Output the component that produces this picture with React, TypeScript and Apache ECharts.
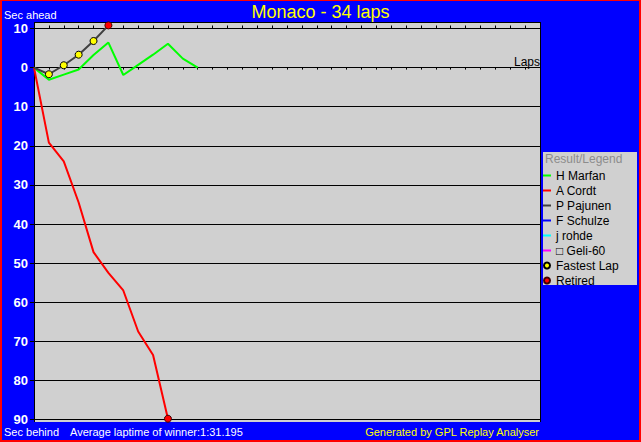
import React, { useEffect, useRef } from "react";
import * as echarts from "echarts";

// Laps 0..n, seconds behind (positive) / ahead (negative) relative to winner average
const marfan = [0, 3.1, 1.8, 0.5, -3.2, -6.4, 1.9, -0.7, -3.3, -6.1, -2.3, 0];
const cordt = [0, 19.2, 24, 34.5, 47.2, 52.5, 57, 67.5, 73.5, 89.8];
const pajunen = [0, 1.7, -0.6, -3.3, -6.8, -10.8];
const fastestLapLaps = [1, 2, 3, 4]; // laps of P Pajunen marked as fastest
const retiredLaps = { pajunen: 5, cordt: 9 };
const yTicks = [-10, 0, 10, 20, 30, 40, 50, 60, 70, 80, 90];
const totalLaps = 34;

const FONT = "'Liberation Sans', Arial, sans-serif";
const PLOT_GRAY = "#d0d0d0";

const toPairs = (arr: number[]) => arr.map((v, i) => [i, v]);

export default function App() {
  const ref = useRef<HTMLDivElement>(null);

  useEffect(() => {
    document.body.style.margin = "0";
    if (!ref.current) return;
    const chart = echarts.init(ref.current, undefined, { renderer: "svg" });

    const fastest = fastestLapLaps.map((l) => [l, pajunen[l]]);
    const retired = [
      [retiredLaps.pajunen, pajunen[retiredLaps.pajunen]],
      [retiredLaps.cordt, cordt[retiredLaps.cordt]],
    ];
    const lineIcon = "path://M0,0h8v2h-8z";

    const lineSeries = (name: string, color: string, data: number[][]) => ({
      name,
      type: "line",
      data,
      symbol: "none",
      color,
      clip: false,
      lineStyle: { color, width: 2 },
      xAxisIndex: 0,
      yAxisIndex: 0,
      z: 3,
    });

    chart.setOption({
      animation: false,
      backgroundColor: "#0000ff",
      title: {
        text: "Monaco - 34 laps",
        left: "center",
        top: 3,
        padding: 0,
        textStyle: { color: "#ffff00", fontSize: 18, fontWeight: "normal", fontFamily: FONT },
      },
      grid: { left: 34, top: 28.5, width: 506, height: 391, containLabel: false },
      xAxis: [
        {
          type: "value",
          min: 0,
          max: totalLaps,
          interval: 1,
          position: "bottom",
          name: "Laps",
          nameLocation: "end",
          nameGap: 0,
          nameTextStyle: {
            color: "#000",
            fontSize: 12,
            fontFamily: FONT,
            align: "right",
            verticalAlign: "bottom",
            padding: [0, 0, 0, 0],
          },
          axisLine: { show: true, onZero: true, lineStyle: { color: "#000", width: 1 } },
          axisTick: { show: true, length: 2, lineStyle: { color: "#000" } },
          axisLabel: { show: false },
          splitLine: { show: false },
        },
        {
          type: "value",
          min: 0,
          max: totalLaps,
          interval: 1,
          position: "top",
          axisLine: { show: true, onZero: true, lineStyle: { color: "#000", width: 1 } },
          axisTick: { show: true, length: 3, lineStyle: { color: "#000" } },
          axisLabel: { show: false },
          splitLine: { show: false },
        },
      ],
      yAxis: {
        type: "value",
        inverse: true,
        min: yTicks[0],
        max: yTicks[yTicks.length - 1],
        interval: 10,
        axisLine: { show: true, onZero: false, lineStyle: { color: "#000", width: 1 } },
        axisTick: { show: true, length: 4, lineStyle: { color: "#000" } },
        axisLabel: {
          color: "#ffffff",
          fontSize: 13,
          fontWeight: "bold",
          fontFamily: FONT,
          margin: 6,
          formatter: (v: number) => String(Math.abs(v)),
        },
        splitLine: { show: true, lineStyle: { color: "#000", width: 1 } },
      },
      legend: {
        orient: "vertical",
        left: 543,
        top: 168,
        padding: 0,
        itemGap: 0,
        itemWidth: 8,
        itemHeight: 6,
        selectedMode: false,
        textStyle: { color: "#000", fontSize: 12, fontFamily: FONT, lineHeight: 15 },
        data: [
          { name: "H Marfan", icon: lineIcon },
          { name: "A Cordt", icon: lineIcon },
          { name: "P Pajunen", icon: lineIcon },
          { name: "F Schulze", icon: lineIcon },
          { name: "j rohde", icon: lineIcon },
          { name: "□ Geli-60", icon: lineIcon },
          { name: "Fastest Lap", icon: "circle" },
          { name: "Retired", icon: "circle" },
        ],
      },
      graphic: [
        // plot panel
        {
          type: "rect",
          z: -10,
          shape: { x: 34, y: 22, width: 506, height: 400 },
          style: { fill: PLOT_GRAY },
        },
        { type: "line", z: 1, shape: { x1: 34, y1: 22.5, x2: 540, y2: 22.5 }, style: { stroke: "#000", lineWidth: 1 } },
        { type: "line", z: 1, shape: { x1: 34.5, y1: 22, x2: 34.5, y2: 422 }, style: { stroke: "#000", lineWidth: 1 } },
        { type: "line", z: 1, shape: { x1: 540.5, y1: 22, x2: 540.5, y2: 422 }, style: { stroke: "#000", lineWidth: 1 } },
        // legend panel
        {
          type: "rect",
          z: -10,
          shape: { x: 543, y: 152, width: 94, height: 133 },
          style: { fill: PLOT_GRAY },
        },
        {
          type: "text",
          left: 545,
          top: 153,
          style: { text: "Result/Legend", fill: "#8c8c8c", fontSize: 12, fontFamily: FONT },
        },
        // header / footer texts
        {
          type: "text",
          left: 4,
          top: 9,
          style: { text: "Sec ahead", fill: "#ffffff", fontSize: 11, fontFamily: FONT },
        },
        {
          type: "text",
          left: 4,
          top: 426,
          style: { text: "Sec behind", fill: "#ffffff", fontSize: 11, fontFamily: FONT },
        },
        {
          type: "text",
          left: 70,
          top: 426,
          style: { text: "Average laptime of winner:1:31.195", fill: "#ffffff", fontSize: 11, fontFamily: FONT },
        },
        {
          type: "text",
          right: 101,
          top: 426,
          style: { text: "Generated by GPL Replay Analyser", fill: "#ffff00", fontSize: 11, fontFamily: FONT },
        },
        // red frame
        { type: "rect", z: 10, shape: { x: 0, y: 0, width: 641, height: 1 }, style: { fill: "#ff0000" } },
        { type: "rect", z: 10, shape: { x: 0, y: 0, width: 2, height: 442 }, style: { fill: "#ff0000" } },
        { type: "rect", z: 10, shape: { x: 639, y: 0, width: 2, height: 442 }, style: { fill: "#ff0000" } },
        { type: "rect", z: 10, shape: { x: 0, y: 440, width: 641, height: 2 }, style: { fill: "#ff0000" } },
      ],
      series: [
        lineSeries("H Marfan", "#00ff00", toPairs(marfan)),
        lineSeries("A Cordt", "#ff0000", toPairs(cordt)),
        lineSeries("P Pajunen", "#404040", toPairs(pajunen)),
        lineSeries("F Schulze", "#0000ff", []),
        lineSeries("j rohde", "#00ffff", []),
        lineSeries("□ Geli-60", "#ff00ff", []),
        {
          name: "Fastest Lap",
          type: "scatter",
          data: fastest,
          symbol: "circle",
          symbolSize: 7,
          clip: false,
          itemStyle: { color: "#ffff00", borderColor: "#000", borderWidth: 1, opacity: 1 },
          z: 5,
        },
        {
          name: "Retired",
          type: "scatter",
          data: retired,
          symbol: "circle",
          symbolSize: 7,
          clip: false,
          itemStyle: { color: "#ff0000", borderColor: "#400000", borderWidth: 1, opacity: 1 },
          z: 5,
        },
      ],
    });

    return () => chart.dispose();
  }, []);

  return <div ref={ref} style={{ width: 641, height: 442 }} />;
}
